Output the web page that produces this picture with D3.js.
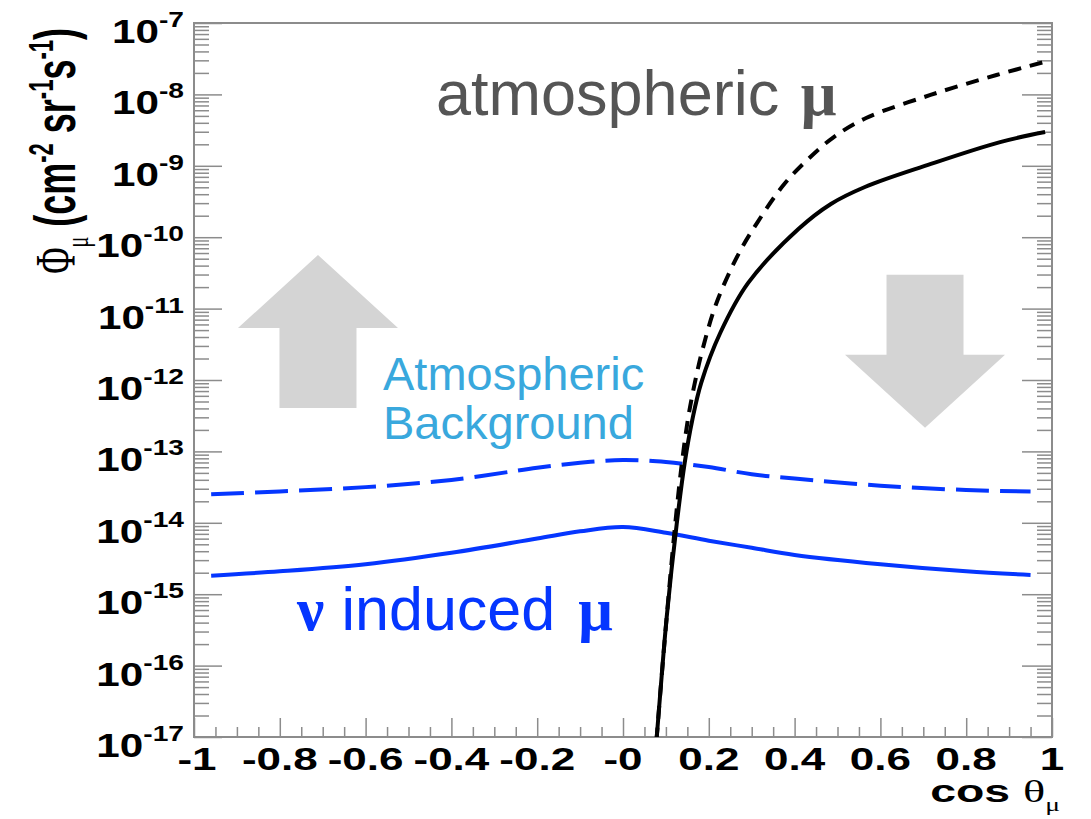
<!DOCTYPE html>
<html>
<head>
<meta charset="utf-8">
<script src="https://cdn.jsdelivr.net/npm/d3@7"></script>
<style>
  body { margin: 0; background: #fff; }
  svg { display: block; }
</style>
</head>
<body>
<div id="chart"></div>
<script>
// blue curves: neutrino induced muon flux (solid) and upper curve (dashed)
const cosBlue = [-0.96, -0.8, -0.6, -0.4, -0.2, -0.1, 0, 0.1, 0.2, 0.3, 0.4, 0.6, 0.8, 0.95];
const fluxBlueDashed = [2.51e-14, 2.75e-14, 3.16e-14, 3.98e-14, 5.89e-14, 6.92e-14, 7.59e-14,
  7.08e-14, 6.03e-14, 4.79e-14, 4.17e-14, 3.31e-14, 2.88e-14, 2.75e-14];
const fluxBlueSolid = [1.82e-15, 2.09e-15, 2.63e-15, 3.80e-15, 6.03e-15, 7.59e-15, 8.71e-15,
  7.24e-15, 5.62e-15, 4.47e-15, 3.55e-15, 2.63e-15, 2.09e-15, 1.86e-15];

// black curves: atmospheric muons
const cosAtmSolid = [0.078, 0.0886, 0.1019, 0.1252, 0.1438, 0.1615, 0.1823, 0.2266, 0.2918,
  0.4089, 0.4846, 0.5639, 0.711, 0.879, 0.984];
const fluxAtmSolid = [8.9e-18, 5.5e-17, 4.8e-16, 9.6e-15, 6.9e-14, 2.75e-13, 9.1e-13,
  4.55e-12, 2.29e-11, 1.30e-10, 2.92e-10, 5.05e-10, 1.03e-9, 2.15e-9, 2.97e-9];
const cosAtmDashed = [0.078, 0.0886, 0.1019, 0.1217, 0.1373, 0.1522, 0.1674, 0.1851, 0.2179,
  0.2704, 0.3138, 0.3741, 0.4296, 0.4914, 0.5667, 0.7168, 0.8706, 0.9907];
const fluxAtmDashed = [8.9e-18, 5.5e-17, 4.8e-16, 9.6e-15, 6.9e-14, 3.03e-13, 9.1e-13,
  2.63e-12, 1.20e-11, 6.0e-11, 1.63e-10, 5.38e-10, 1.21e-9, 2.53e-9, 4.67e-9, 9.82e-9,
  1.87e-8, 2.94e-8];

// axis ticks
const xMajor = [-1, -0.8, -0.6, -0.4, -0.2, 0, 0.2, 0.4, 0.6, 0.8, 1];
const xTickLabels = ['-1', '-0.8', '-0.6', '-0.4', '-0.2', '-0', '0.2', '0.4', '0.6', '0.8', '1'];
const yExponents = [-17, -16, -15, -14, -13, -12, -11, -10, -9, -8, -7];

const width = 1091, height = 819;
const margin = { top: 23, right: 39, bottom: 82, left: 194 };
const x0 = margin.left, x1 = width - margin.right;
const y0 = margin.top, y1 = height - margin.bottom;

const svg = d3.select('#chart').append('svg')
  .attr('width', width).attr('height', height);

const x = d3.scaleLinear().domain([-1, 1]).range([x0, x1]);
const y = d3.scaleLog().domain([1e-17, 1e-7]).range([y1, y0]);

const gray = '#8c8c8c';
const blue = '#0536ff';

// minor tick values
const xMinor = d3.range(-1, 1.0001, 0.05).map(v => +v.toFixed(2))
  .filter(v => !xMajor.some(m => Math.abs(m - v) < 1e-6));
const yMajor = yExponents.map(e => Math.pow(10, e));
const yMinor = [];
yExponents.slice(0, -1).forEach(e => {
  for (let k = 2; k <= 9; k++) yMinor.push(k * Math.pow(10, e));
});

// clip for data
svg.append('clipPath').attr('id', 'plotclip')
  .append('rect').attr('x', x0).attr('y', y0).attr('width', x1 - x0).attr('height', y1 - y0);

// background arrows (annotations, anchored in data space)
const arrows = svg.append('g').attr('fill', '#d4d4d4');
function arrow(cx, apexY, dir) {
  // dir = -1 for up, +1 for down; sizes in px
  const hw = 80, sw = 38.5, head = 73, shaft = 80;
  const b = apexY - dir * head;
  const e = b - dir * shaft;
  const pts = [[cx, apexY], [cx + hw, b], [cx + sw, b], [cx + sw, e], [cx - sw, e], [cx - sw, b], [cx - hw, b]];
  arrows.append('polygon').attr('points', pts.map(p => p.join(',')).join(' '));
}
arrow(x(-0.711), y(Math.pow(10, -10.25)), -1);
arrow(x(0.704), y(Math.pow(10, -12.67)), 1);

// axes ticks via d3 axes (labels drawn separately)
function styleAxis(g) {
  g.select('.domain').remove();
  g.selectAll('line').attr('stroke', gray).attr('stroke-width', 1.5);
}
svg.append('g').attr('transform', `translate(${x0},0)`)
  .call(d3.axisLeft(y).tickValues(yMajor).tickSize(-28).tickFormat('')).call(styleAxis);
svg.append('g').attr('transform', `translate(${x0},0)`)
  .call(d3.axisLeft(y).tickValues(yMinor).tickSize(-15).tickFormat('')).call(styleAxis);
svg.append('g').attr('transform', `translate(${x1},0)`)
  .call(d3.axisRight(y).tickValues(yMajor).tickSize(-30).tickFormat('')).call(styleAxis);
svg.append('g').attr('transform', `translate(${x1},0)`)
  .call(d3.axisRight(y).tickValues(yMinor).tickSize(-15).tickFormat('')).call(styleAxis);
svg.append('g').attr('transform', `translate(0,${y1})`)
  .call(d3.axisBottom(x).tickValues(xMajor).tickSize(-19).tickFormat('')).call(styleAxis);
svg.append('g').attr('transform', `translate(0,${y1})`)
  .call(d3.axisBottom(x).tickValues(xMinor).tickSize(-10).tickFormat('')).call(styleAxis);

// frame
svg.append('rect')
  .attr('x', x0).attr('y', y0).attr('width', x1 - x0).attr('height', y1 - y0)
  .attr('fill', 'none').attr('stroke', gray).attr('stroke-width', 2);

// curves
const plot = svg.append('g').attr('clip-path', 'url(#plotclip)');
const line = d3.line().x(d => x(d[0])).y(d => y(d[1])).curve(d3.curveCatmullRom.alpha(0.5));

plot.append('path').datum(d3.zip(cosBlue, fluxBlueDashed))
  .attr('d', line).attr('fill', 'none').attr('stroke', blue)
  .attr('stroke-width', 4).attr('stroke-dasharray', '33 11');
plot.append('path').datum(d3.zip(cosBlue, fluxBlueSolid))
  .attr('d', line).attr('fill', 'none').attr('stroke', blue).attr('stroke-width', 4);
plot.append('path').datum(d3.zip(cosAtmDashed, fluxAtmDashed))
  .attr('d', line).attr('fill', 'none').attr('stroke', '#000')
  .attr('stroke-width', 4).attr('stroke-dasharray', '13 9');
plot.append('path').datum(d3.zip(cosAtmSolid, fluxAtmSolid))
  .attr('d', line).attr('fill', 'none').attr('stroke', '#000').attr('stroke-width', 4);

// y tick labels: 10^n
const sans = '"Liberation Sans", Arial, Helvetica, sans-serif';
const serif = '"Liberation Serif", "Times New Roman", serif';
yExponents.forEach(e => {
  const t = svg.append('g')
    .attr('transform', `translate(184,${y(Math.pow(10, e)) + 20}) scale(1.28,1)`)
    .append('text')
    .attr('text-anchor', 'end')
    .attr('font-family', sans).attr('font-weight', 'bold').attr('font-size', 33)
    .attr('fill', '#000');
  t.append('tspan').text('10');
  t.append('tspan').attr('dy', -16).attr('font-size', 22).text(String(e));
});

// x tick labels
xMajor.forEach((v, i) => {
  svg.append('g')
    .attr('transform', `translate(${x(v) + (i === 0 ? 3 : 0)},770) scale(1.42,1)`)
    .append('text')
    .attr('text-anchor', 'middle')
    .attr('font-family', sans).attr('font-weight', 'bold').attr('font-size', 31)
    .text(xTickLabels[i]);
});

// x axis title
const xt = svg.append('g').attr('transform', 'translate(1060,802) scale(1.45,1)')
  .append('text').attr('text-anchor', 'end').attr('font-size', 32).attr('fill', '#000');
xt.append('tspan').attr('font-family', sans).attr('font-weight', 'bold').text('cos ');
xt.append('tspan').attr('font-family', serif).text('\u03b8');
xt.append('tspan').attr('font-family', serif).attr('font-size', 19).attr('dy', 9).text('\u03bc');

// y axis title
const yt = svg.append('g').attr('transform', 'translate(75,28) scale(1.6,1) rotate(-90)')
  .append('text').attr('text-anchor', 'end').attr('font-size', 36).attr('fill', '#000');
yt.append('tspan').attr('font-family', serif).text('\u03a6');
yt.append('tspan').attr('font-family', serif).attr('font-size', 20).attr('dy', 8).text('\u03bc');
yt.append('tspan').attr('font-family', sans).attr('font-weight', 'bold').attr('dy', -8).text(' (cm');
yt.append('tspan').attr('font-family', sans).attr('font-weight', 'bold').attr('font-size', 22).attr('dy', -14).text('-2');
yt.append('tspan').attr('font-family', sans).attr('font-weight', 'bold').attr('dy', 14).text(' sr');
yt.append('tspan').attr('font-family', sans).attr('font-weight', 'bold').attr('font-size', 22).attr('dy', -14).text('-1');
yt.append('tspan').attr('font-family', sans).attr('font-weight', 'bold').attr('dy', 14).text('s');
yt.append('tspan').attr('font-family', sans).attr('font-weight', 'bold').attr('font-size', 22).attr('dy', -14).text('-1');
yt.append('tspan').attr('font-family', sans).attr('font-weight', 'bold').attr('dy', 14).text(')');

// annotations
const atm = svg.append('text').attr('x', 436).attr('y', 115)
  .attr('font-size', 63).attr('fill', '#555');
atm.append('tspan').attr('font-family', sans).text('atmospheric ');
atm.append('tspan').attr('font-family', serif).attr('font-weight', 'bold').attr('dx', 4).text('\u03bc');

svg.append('text').attr('x', 383).attr('y', 390)
  .attr('font-family', sans).attr('font-size', 47).attr('fill', '#39a8dd')
  .text('Atmospheric');
svg.append('text').attr('x', 383).attr('y', 439)
  .attr('font-family', sans).attr('font-size', 47).attr('fill', '#39a8dd')
  .text('Background');

const nu = svg.append('text').attr('x', 297).attr('y', 630)
  .attr('font-size', 61).attr('fill', blue);
nu.append('tspan').attr('font-family', serif).attr('font-weight', 'bold').text('\u03bd ');
nu.append('tspan').attr('font-family', sans).attr('dx', 2).text('induced ');
nu.append('tspan').attr('font-family', serif).attr('font-weight', 'bold').attr('dx', 6).text('\u03bc');
</script>
</body>
</html>
